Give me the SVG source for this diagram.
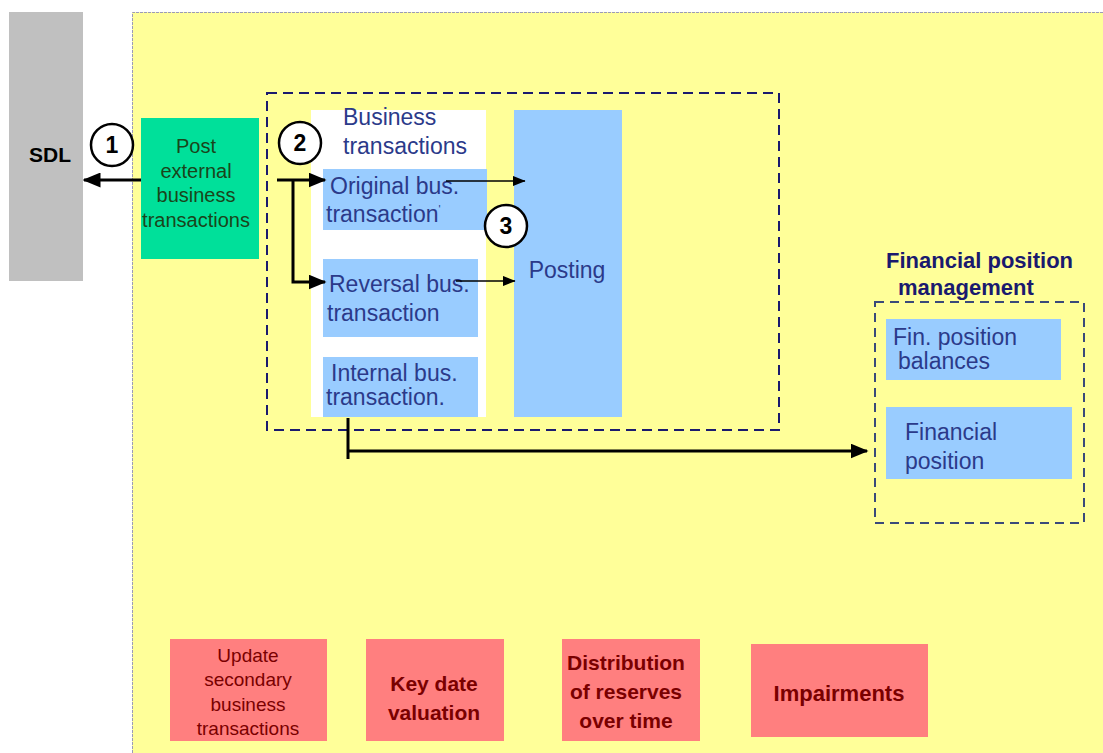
<svg xmlns="http://www.w3.org/2000/svg" width="1103" height="753" viewBox="0 0 1103 753">
<style>
  text { font-family: "Liberation Sans", Arial, sans-serif; }
  .blue { fill: #99ccff; }
  .bt { fill: #2b3a8a; font-size: 23px; }
  .red { fill: #ff7f7f; }
  .rt { fill: #7a0000; text-anchor: middle; }
  .circ { fill: #ffffff; stroke: #000000; stroke-width: 2.5; }
  .num { font-size: 23px; font-weight: bold; text-anchor: middle; fill: #000; }
  .dash { fill: none; stroke: #1a1a6e; stroke-width: 2; stroke-dasharray: 10 6; }
  .thick { fill: none; stroke: #000; stroke-width: 3; }
  .thin { fill: none; stroke: #000; stroke-width: 1.3; }
</style>
<defs>
  <marker id="ah" markerWidth="6" markerHeight="5" refX="5.5" refY="2.5" orient="auto" markerUnits="strokeWidth">
    <path d="M0,0 L6,2.5 L0,5 Z" fill="#000"/>
  </marker>
  <marker id="ahs" markerWidth="10" markerHeight="8" refX="9.5" refY="4" orient="auto" markerUnits="strokeWidth">
    <path d="M0,0 L10,4 L0,8 Z" fill="#000"/>
  </marker>
</defs>
<rect x="0" y="0" width="1103" height="753" fill="#ffffff"/>
<g id="area">
  <rect x="132" y="12" width="980" height="750" fill="#ffff99"/>
  <path d="M132.5,753 L132.5,12.5 L1103,12.5" fill="none" stroke="#9a9ab8" stroke-width="1" stroke-dasharray="3 1"/>
</g>
<g id="sdl">
  <rect x="9" y="12" width="74" height="269" fill="#c0c0c0"/>
  <text x="50" y="162" font-size="21" font-weight="bold" text-anchor="middle" fill="#000">SDL</text>
</g>
<g id="post-external">
  <rect x="141" y="118" width="118" height="141" fill="#00e09a"/>
  <text x="196" y="153" font-size="20" text-anchor="middle" fill="#1a451a">Post</text>
  <text x="196" y="178" font-size="20" text-anchor="middle" fill="#1a451a">external</text>
  <text x="196" y="202" font-size="20" text-anchor="middle" fill="#1a451a">business</text>
  <text x="196" y="227" font-size="20" text-anchor="middle" fill="#1a451a">transactions</text>
</g>
<g id="circle1">
  <circle class="circ" cx="112" cy="145" r="21"/>
  <text class="num" x="112" y="153">1</text>
</g>
<g id="bt-group">
  <rect x="267" y="93" width="512" height="337" class="dash"/>
  <rect x="311" y="110" width="175" height="307" fill="#ffffff"/>
  <text class="bt" x="343" y="125">Business</text>
  <text class="bt" x="343" y="154">transactions</text>
</g>
<g id="original">
  <rect class="blue" x="323" y="169" width="164" height="61"/>
  <text class="bt" x="330" y="194">Original bus.</text>
  <text class="bt" x="326" y="222">transaction<tspan font-size="11" dy="-9">'</tspan></text>
</g>
<g id="reversal">
  <rect class="blue" x="323" y="259" width="155" height="78"/>
  <text class="bt" x="329" y="292">Reversal bus.</text>
  <text class="bt" x="327" y="321">transaction</text>
</g>
<g id="internal">
  <rect class="blue" x="323" y="357" width="155" height="60"/>
  <text class="bt" x="331" y="381">Internal bus.</text>
  <text class="bt" x="326" y="405">transaction.</text>
</g>
<g id="posting">
  <rect class="blue" x="514" y="110" width="108" height="307"/>
  <text class="bt" x="567" y="278" text-anchor="middle">Posting</text>
</g>
<g id="circle2">
  <circle class="circ" cx="300" cy="143" r="21"/>
  <text class="num" x="300" y="151">2</text>
</g>
<g id="circle3">
  <circle class="circ" cx="506" cy="226" r="21"/>
  <text class="num" x="506" y="234">3</text>
</g>
<g id="fpm">
  <text x="886" y="268" font-size="22" font-weight="bold" fill="#1a1a6e">Financial position</text>
  <text x="898" y="295" font-size="22" font-weight="bold" fill="#1a1a6e">management</text>
  <rect x="875" y="302" width="209" height="221" fill="none" stroke="#3a4a7a" stroke-width="2" stroke-dasharray="9 6"/>
</g>
<g id="fin-balances">
  <rect class="blue" x="886" y="319" width="175" height="61"/>
  <text class="bt" x="893" y="345" font-size="21.5">Fin. position</text>
  <text class="bt" x="898" y="369" font-size="21.5">balances</text>
</g>
<g id="fin-position">
  <rect class="blue" x="886" y="407" width="186" height="72"/>
  <text class="bt" x="905" y="440">Financial</text>
  <text class="bt" x="905" y="469">position</text>
</g>
<g id="update-secondary">
  <rect class="red" x="170" y="639" width="157" height="102"/>
  <text class="rt" x="248" y="662" font-size="19">Update</text>
  <text class="rt" x="248" y="686" font-size="19">secondary</text>
  <text class="rt" x="248" y="711" font-size="19">business</text>
  <text class="rt" x="248" y="735" font-size="19">transactions</text>
</g>
<g id="key-date">
  <rect class="red" x="366" y="639" width="138" height="102"/>
  <text class="rt" x="434" y="691" font-size="21" font-weight="bold">Key date</text>
  <text class="rt" x="434" y="720" font-size="21" font-weight="bold">valuation</text>
</g>
<g id="distribution">
  <rect class="red" x="562" y="639" width="138" height="102"/>
  <text class="rt" x="626" y="670" font-size="21" font-weight="bold">Distribution</text>
  <text class="rt" x="626" y="699" font-size="21" font-weight="bold">of reserves</text>
  <text class="rt" x="626" y="728" font-size="21" font-weight="bold">over time</text>
</g>
<g id="impairments">
  <rect class="red" x="751" y="644" width="177" height="93"/>
  <text class="rt" x="839" y="701" font-size="22" font-weight="bold">Impairments</text>
</g>
<g id="connectors">
  <line x1="141" y1="180" x2="84" y2="180" class="thick" stroke-width="2.5" marker-end="url(#ah)"/>
  <line x1="277" y1="180" x2="325" y2="180" class="thick" marker-end="url(#ah)"/>
  <polyline points="293,180 293,282 325,282" class="thick" marker-end="url(#ah)"/>
  <line x1="446" y1="181" x2="525" y2="181" class="thin" marker-end="url(#ahs)"/>
  <line x1="456" y1="281" x2="515" y2="281" class="thin" marker-end="url(#ahs)"/>
  <line x1="348" y1="418" x2="348" y2="459" class="thick" stroke-width="2.5"/>
  <line x1="348" y1="451" x2="867" y2="451" class="thick" stroke-width="2.5" marker-end="url(#ah)"/>
</g>
</svg>
